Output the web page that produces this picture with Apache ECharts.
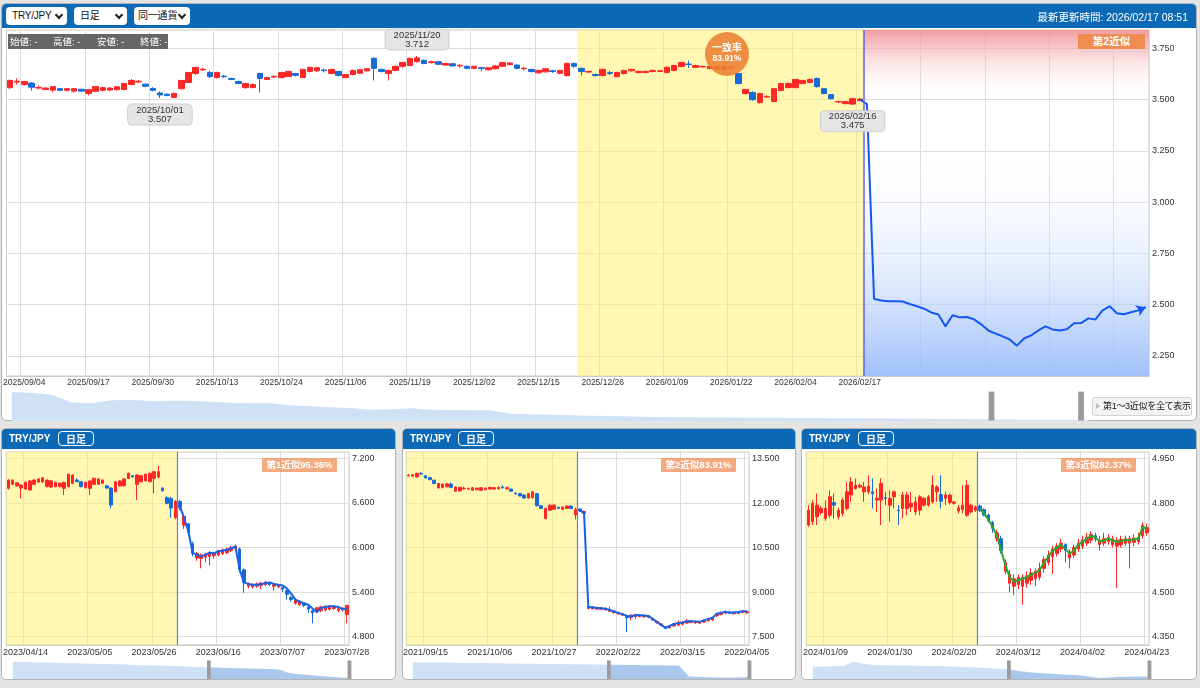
<!DOCTYPE html>
<html>
<head>
<meta charset="utf-8">
<script src="https://cdn.jsdelivr.net/npm/echarts@6/dist/echarts.min.js"></script>
<style>
  body { margin: 0; width: 1200px; height: 688px; overflow: hidden; background: #e4e4e4;
         font-family: "Liberation Sans", "Noto Sans CJK JP", sans-serif; }
  .panel { position: absolute; background: #fff; border: 1px solid #b3b3b3; border-radius: 5px;
           box-sizing: border-box; overflow: hidden; }
  .hdr { position: absolute; left: 0; right: 0; top: 0; background: #0b69b5; }
  .chart { position: absolute; z-index: 1; }
  .ov { position: absolute; z-index: 2; }
  .sel { position: absolute; z-index: 2; height: 18px; background: #fff; border-radius: 4px; box-sizing: border-box;
         font-size: 10px; line-height: 18px; padding-left: 6px; color: #111; letter-spacing: -0.2px; }
  .sel i { position: absolute; right: 5px; top: 5px; width: 4px; height: 4px; border-right: 2px solid #222;
           border-bottom: 2px solid #222; transform: rotate(45deg); }
  .ptitle { position: absolute; z-index: 2; color: #fff; font-weight: bold; font-size: 10px; }
  .pbtn { position: absolute; z-index: 2; width: 36px; height: 15px; border: 1px solid #fff; border-radius: 4px;
          box-sizing: border-box; color: #fff; font-weight: bold; font-size: 10px; line-height: 13px; text-align: center;
          font-family: "Noto Sans CJK JP", sans-serif; }
  .badge { position: absolute; z-index: 2; height: 14px; width: 75px; background: rgba(240,146,92,0.78); color: #fff;
           font-weight: bold; font-size: 9.5px; line-height: 14px; text-align: center; }
</style>
</head>
<body>

<!-- page chrome -->
<div class="panel" style="left:1px;top:3px;width:1196px;height:418px">
  <div class="hdr" style="height:24px;border-radius:4px 4px 0 0"></div>
</div>
<div class="panel" style="left:1px;top:428px;width:395px;height:252px"><div class="hdr" style="height:20px"></div></div>
<div class="panel" style="left:402px;top:428px;width:394px;height:252px"><div class="hdr" style="height:20px"></div></div>
<div class="panel" style="left:801px;top:428px;width:396px;height:252px"><div class="hdr" style="height:20px"></div></div>

<div id="main" class="chart" style="left:0;top:0;width:1200px;height:421px"></div>
<div id="c1" class="chart" style="left:0;top:425px;width:400px;height:254px"></div>
<div id="c2" class="chart" style="left:400px;top:425px;width:400px;height:254px"></div>
<div id="c3" class="chart" style="left:800px;top:425px;width:400px;height:254px"></div>

<!-- header controls -->
<div class="sel" style="left:6px;top:7px;width:61px">TRY/JPY<i></i></div>
<div class="sel" style="left:74px;top:7px;width:53px">日足<i></i></div>
<div class="sel" style="left:134px;top:7px;width:56px;padding-left:4px">同一通貨<i></i></div>
<div class="ov" style="right:12px;top:9px;color:#fff;font-size:10.5px">最新更新時間: 2026/02/17 08:51</div>

<div class="ov" style="left:8px;top:34px;width:160px;height:15px;background:rgba(85,85,85,0.9);color:#fff;font-size:9.5px;line-height:15px">
  <span style="position:absolute;left:2px">始値: -</span>
  <span style="position:absolute;left:45px">高値: -</span>
  <span style="position:absolute;left:89px">安値: -</span>
  <span style="position:absolute;left:132px">終値: -</span>
</div>
<div class="ov" style="left:1078px;top:34px;width:67px;height:15px;background:#ee8c52;color:#fff;font-weight:bold;font-size:10.5px;line-height:15px;text-align:center">第2近似</div>
<div class="ov" style="left:705px;top:32px;width:44px;height:44px;border-radius:50%;background:rgba(236,128,48,0.88);color:#fff;font-weight:bold;text-align:center">
  <div style="font-size:10px;line-height:11px;margin-top:10px">一致率</div>
  <div style="font-size:8.5px;line-height:10px">83.91%</div>
</div>
<div class="ov" style="left:1092px;top:397px;width:100px;height:19px;box-sizing:border-box;border:1px solid #d2d2d2;border-radius:3px;background:#f3f3f3;font-size:9px;line-height:17px;color:#111;padding-left:10px;letter-spacing:-0.3px">
  <span style="position:absolute;left:3px;top:5px;width:0;height:0;border-left:4px solid #bbb;border-top:3px solid transparent;border-bottom:3px solid transparent"></span>第1～3近似を全て表示
</div>

<!-- panel headers -->
<div class="ptitle" style="left:9px;top:433px">TRY/JPY</div><div class="pbtn" style="left:58px;top:431px">日足</div>
<div class="ptitle" style="left:410px;top:433px">TRY/JPY</div><div class="pbtn" style="left:458px;top:431px">日足</div>
<div class="ptitle" style="left:809px;top:433px">TRY/JPY</div><div class="pbtn" style="left:858px;top:431px">日足</div>
<div class="badge" style="left:262px;top:458px">第1近似95.36%</div>
<div class="badge" style="left:661px;top:458px">第2近似83.91%</div>
<div class="badge" style="left:1061px;top:458px">第3近似82.37%</div>

<script>
const FONT = '"Liberation Sans", Arial, sans-serif';
const UP = '#ff2626';
const DOWN = '#176bd8';

// weekday calendar (forex days), optionally skipping holidays
function makeDays(start, count, skip) {
  const out = [];
  const d = new Date(start + 'T00:00:00Z');
  while (out.length < count) {
    const wd = d.getUTCDay();
    const s = d.toISOString().slice(0, 10).replace(/-/g, '/');
    if (wd !== 0 && wd !== 6 && !(skip || []).includes(s)) out.push(s);
    d.setUTCDate(d.getUTCDate() + 1);
  }
  return out;
}

/* ---------------- main chart data ---------------- */
const mainDates = makeDays('2025-09-02', 160, ['2026/01/01']);
const mainYTicks = [2.25, 2.5, 2.75, 3.0, 3.25, 3.5, 3.75];
// [open, close, low, high]
const mainOHLC = [
  [3.558,3.593,3.552,3.598],[3.585,3.589,3.573,3.603],[3.573,3.588,3.568,3.591],[3.580,3.560,3.544,3.585],
  [3.556,3.559,3.549,3.570],[3.549,3.556,3.546,3.560],[3.546,3.563,3.535,3.566],[3.553,3.545,3.541,3.556],
  [3.545,3.553,3.540,3.556],[3.541,3.553,3.533,3.556],[3.550,3.541,3.538,3.553],[3.530,3.548,3.520,3.550],
  [3.540,3.563,3.536,3.566],[3.545,3.558,3.540,3.562],[3.546,3.556,3.540,3.559],[3.548,3.562,3.543,3.565],
  [3.549,3.578,3.545,3.581],[3.573,3.593,3.570,3.600],[3.586,3.589,3.580,3.595],[3.575,3.565,3.560,3.578],
  [3.554,3.545,3.540,3.560],[3.532,3.522,3.507,3.540],[3.526,3.520,3.515,3.530],[3.510,3.530,3.508,3.533],
  [3.553,3.593,3.550,3.596],[3.583,3.632,3.580,3.635],[3.627,3.657,3.620,3.660],[3.645,3.648,3.640,3.655],
  [3.632,3.612,3.605,3.640],[3.607,3.632,3.603,3.636],[3.614,3.611,3.606,3.620],[3.603,3.598,3.594,3.606],
  [3.588,3.578,3.575,3.592],[3.558,3.578,3.553,3.581],[3.558,3.573,3.555,3.578],[3.627,3.603,3.534,3.630],
  [3.598,3.607,3.596,3.610],[3.610,3.613,3.603,3.618],[3.607,3.632,3.602,3.635],[3.612,3.637,3.610,3.640],
  [3.627,3.618,3.612,3.630],[3.607,3.647,3.604,3.650],[3.637,3.657,3.633,3.660],[3.640,3.655,3.635,3.658],
  [3.644,3.641,3.632,3.650],[3.627,3.647,3.624,3.650],[3.637,3.618,3.613,3.640],[3.607,3.622,3.603,3.625],
  [3.622,3.642,3.618,3.646],[3.628,3.645,3.625,3.648],[3.640,3.650,3.636,3.654],[3.701,3.652,3.593,3.705],
  [3.647,3.637,3.632,3.650],[3.627,3.642,3.593,3.645],[3.642,3.662,3.640,3.666],[3.662,3.681,3.655,3.684],
  [3.666,3.701,3.662,3.704],[3.685,3.703,3.680,3.712],[3.691,3.676,3.672,3.695],[3.680,3.684,3.676,3.690],
  [3.684,3.672,3.668,3.688],[3.668,3.676,3.664,3.680],[3.674,3.664,3.660,3.678],[3.664,3.667,3.655,3.672],
  [3.662,3.652,3.648,3.666],[3.652,3.662,3.648,3.665],[3.655,3.652,3.640,3.660],[3.645,3.655,3.642,3.658],
  [3.650,3.664,3.646,3.668],[3.662,3.680,3.658,3.684],[3.670,3.678,3.666,3.682],[3.668,3.652,3.648,3.672],
  [3.650,3.653,3.642,3.658],[3.647,3.637,3.632,3.650],[3.630,3.642,3.626,3.645],[3.635,3.650,3.630,3.653],
  [3.640,3.637,3.630,3.645],[3.628,3.642,3.624,3.645],[3.617,3.676,3.612,3.680],[3.676,3.662,3.655,3.680],
  [3.652,3.637,3.617,3.656],[3.634,3.637,3.630,3.640],[3.622,3.617,3.612,3.626],[3.617,3.647,3.613,3.650],
  [3.631,3.627,3.620,3.640],[3.612,3.632,3.608,3.635],[3.627,3.642,3.622,3.645],[3.640,3.647,3.636,3.650],
  [3.632,3.637,3.628,3.641],[3.632,3.637,3.628,3.641],[3.637,3.642,3.633,3.646],[3.637,3.640,3.633,3.644],
  [3.632,3.657,3.628,3.660],[3.642,3.666,3.638,3.669],[3.661,3.681,3.656,3.684],[3.673,3.671,3.654,3.690],
  [3.657,3.666,3.653,3.670],[3.659,3.661,3.655,3.665],[3.651,3.661,3.647,3.664],[3.647,3.661,3.643,3.664],
  [3.647,3.661,3.643,3.664],[3.655,3.659,3.650,3.663],[3.627,3.578,3.573,3.630],[3.529,3.549,3.525,3.552],
  [3.534,3.499,3.494,3.540],[3.485,3.529,3.480,3.533],[3.512,3.515,3.508,3.520],[3.490,3.553,3.487,3.556],
  [3.544,3.578,3.540,3.581],[3.558,3.578,3.555,3.582],[3.558,3.598,3.555,3.601],[3.578,3.593,3.575,3.596],
  [3.583,3.598,3.580,3.601],[3.603,3.563,3.558,3.607],[3.553,3.529,3.525,3.556],[3.524,3.504,3.500,3.527],
  [3.488,3.490,3.483,3.495],[3.480,3.490,3.476,3.493],[3.478,3.504,3.475,3.507],[3.495,3.502,3.490,3.507]
];
// projected path (第2近似), starting at the latest bar
const forecastStart = 119;
const mainForecast = [
  3.500, 3.478, 2.528, 2.520, 2.517, 2.517, 2.515, 2.503, 2.492, 2.480,
  2.462, 2.452, 2.394, 2.448, 2.438, 2.440, 2.428, 2.404, 2.374, 2.359,
  2.345, 2.330, 2.300, 2.335, 2.350, 2.374, 2.394, 2.379, 2.374, 2.380,
  2.409, 2.410, 2.433, 2.428, 2.472, 2.492, 2.458, 2.453, 2.463, 2.472, 2.487
];
// matched period (yellow) and projection zone, as bar boundaries
const mainZones = { matchFrom: 80, now: 120, end: 160 };
// high / low notes on the candles
const mainNotes = [ { idx: 21, field: 'low', pos: 'bottom' }, { idx: 57, field: 'high', pos: 'top' }, { idx: 118, field: 'low', pos: 'bottom' } ];
// long-history overview under the main chart
const mainZoomHist = [
  28.3, 27.8, 25.6, 18.3, 17.2, 20.1, 20.4, 19.5, 19.7, 19.8, 18.6, 17.8, 17.3, 17.1, 15.1, 14.2,
  13.3, 12.4, 10.8, 11.3, 12.2, 10.7, 10.5, 10.3, 10.1, 6.7, 6.2, 5.7, 5.1, 4.8, 4.5, 4.0,
  3.5, 3.3, 3.1, 3.0, 2.9, 2.8, 2.6, 2.5, 2.4, 2.3, 2.2, 2.1, 2.0, 1.8, 1.6, 1.4, 1.2, 1.0,
  0.9, 0.8, 0.7, 0.6, 0.5
];

/* ---------------- similar-period panels ---------------- */
const p1Dates = makeDays('2023-04-10', 80);
const p1YTicks = [4.8, 5.4, 6.0, 6.6, 7.2];
const p1OHLC = [
  [6.796,6.908,6.780,6.920],[6.850,6.905,6.840,6.915],[6.830,6.870,6.815,6.880],[6.800,6.840,6.662,6.850],
  [6.787,6.877,6.775,6.890],[6.774,6.895,6.765,6.905],[6.850,6.908,6.840,6.915],[6.880,6.922,6.870,6.930],
  [6.880,6.939,6.870,6.950],[6.820,6.908,6.810,6.915],[6.814,6.895,6.800,6.905],[6.818,6.877,6.810,6.885],
  [6.818,6.864,6.810,6.872],[6.796,6.877,6.706,6.885],[6.818,6.985,6.810,6.995],[6.864,6.975,6.850,6.985],
  [6.908,6.885,6.880,6.930],[6.885,6.818,6.810,6.895],[6.804,6.877,6.795,6.885],[6.796,6.895,6.706,6.905],
  [6.850,6.931,6.840,6.940],[6.850,6.922,6.845,6.935],[6.864,6.908,6.855,6.915],[6.830,6.800,6.790,6.840],
  [6.800,6.572,6.527,6.810],[6.751,6.885,6.740,6.895],[6.827,6.895,6.820,6.905],[6.830,6.922,6.825,6.930],
  [6.930,6.998,6.920,7.010],[6.966,6.950,6.940,6.975],[6.850,6.975,6.639,6.985],[6.885,6.966,6.875,6.975],
  [6.897,6.985,6.890,6.995],[6.885,6.998,6.875,7.005],[6.930,7.020,6.729,7.030],[6.950,7.020,6.930,7.100],
  [6.800,6.764,6.750,6.810],[6.670,6.595,6.580,6.690],[6.660,6.530,6.400,6.680],[6.400,6.620,6.380,6.640],
  [6.620,6.540,6.500,6.640],[6.300,6.420,6.250,6.450],[6.320,6.200,6.150,6.330],[6.050,5.920,5.880,6.080],
  [5.860,5.920,5.820,5.940],[5.850,5.900,5.720,5.920],[5.870,5.910,5.800,5.930],[5.880,5.930,5.760,5.950],
  [5.890,5.920,5.850,5.940],[5.900,5.950,5.880,5.970],[5.920,5.960,5.900,5.990],[5.930,5.975,5.910,6.000],
  [5.960,6.000,5.940,6.020],[5.990,6.020,5.960,6.040],[5.980,5.700,5.660,6.000],[5.700,5.530,5.390,5.720],
  [5.480,5.510,5.450,5.530],[5.470,5.500,5.450,5.520],[5.480,5.510,5.460,5.530],[5.490,5.520,5.440,5.540],
  [5.500,5.535,5.480,5.555],[5.520,5.500,5.480,5.530],[5.480,5.500,5.420,5.520],[5.470,5.490,5.450,5.510],
  [5.460,5.440,5.400,5.470],[5.420,5.370,5.300,5.430],[5.330,5.300,5.270,5.340],[5.250,5.290,5.230,5.310],
  [5.230,5.270,5.210,5.290],[5.250,5.220,5.200,5.260],[5.200,5.170,5.120,5.210],[5.150,5.120,4.980,5.160],
  [5.140,5.190,5.120,5.200],[5.150,5.200,5.130,5.215],[5.160,5.210,5.140,5.225],[5.170,5.210,5.150,5.225],
  [5.180,5.200,5.160,5.215],[5.150,5.175,5.130,5.190],[5.160,5.185,5.140,5.200],[5.100,5.220,4.980,5.230]
];
const p1Path = [
  6.56, 6.40, 6.22, 5.93, 5.90, 5.88, 5.90, 5.93, 5.92, 5.95, 5.96, 5.97, 5.99, 6.01, 5.70, 5.53,
  5.51, 5.50, 5.50, 5.51, 5.52, 5.53, 5.51, 5.50, 5.49, 5.45, 5.38, 5.30, 5.27, 5.25, 5.23, 5.18,
  5.13, 5.19, 5.20, 5.21, 5.21, 5.20, 5.17, 5.18
];
const p1ZoomHist = [
  17.3, 17.0, 16.8, 16.5, 16.3, 16.1, 15.7, 15.6, 15.3, 15.0, 14.8, 14.4, 14.1, 13.8, 13.5, 13.2, 13.0,
  12.5, 12.1, 11.7, 11.4, 11.1, 10.8, 10.5, 10.2, 9.9, 9.5, 6.0, 4.7, 4.0, 3.0, 2.3, 1.6, 0.9
];

const p2Dates = makeDays('2021-09-09', 40).concat(makeDays('2022-02-09', 40));
const p2YTicks = [7.5, 9.0, 10.5, 12.0, 13.5];
const p2OHLC = [
  [12.92,12.94,12.90,12.97],[12.91,12.95,12.89,12.97],[12.88,13.00,12.86,13.03],[13.00,12.98,12.95,13.04],
  [12.92,12.85,12.82,12.94],[12.86,12.79,12.76,12.88],[12.77,12.66,12.63,12.79],[12.51,12.66,12.49,12.68],
  [12.52,12.64,12.50,12.66],[12.55,12.65,12.53,12.67],[12.64,12.53,12.50,12.70],[12.40,12.54,12.38,12.56],
  [12.41,12.53,12.39,12.55],[12.48,12.50,12.45,12.56],[12.47,12.49,12.45,12.52],[12.43,12.52,12.41,12.54],
  [12.45,12.50,12.43,12.52],[12.43,12.52,12.41,12.54],[12.45,12.50,12.43,12.52],[12.47,12.53,12.45,12.55],
  [12.47,12.52,12.45,12.54],[12.48,12.53,12.46,12.55],[12.54,12.52,12.48,12.60],[12.48,12.52,12.46,12.55],
  [12.47,12.40,12.38,12.49],[12.33,12.31,12.28,12.36],[12.32,12.24,12.22,12.34],[12.27,12.17,12.15,12.29],
  [12.17,12.32,12.15,12.34],[12.18,12.38,12.16,12.40],[12.32,11.91,11.88,12.34],[11.91,11.82,11.80,11.93],
  [11.48,11.82,11.45,11.84],[11.76,11.93,11.74,11.95],[11.79,11.93,11.77,11.96],[11.86,11.82,11.80,11.88],
  [11.79,11.87,11.77,11.89],[11.82,11.90,11.80,11.92],[11.90,11.82,11.79,11.92],[11.60,11.78,11.45,11.85],
  [11.80,11.74,11.70,11.82],[11.66,11.72,11.63,11.75],[8.45,8.52,8.42,8.55],[8.44,8.50,8.42,8.53],
  [8.43,8.48,8.40,8.51],[8.42,8.47,8.40,8.50],[8.40,8.45,8.38,8.50],[8.36,8.41,8.33,8.52],
  [8.31,8.36,8.28,8.39],[8.26,8.31,8.24,8.34],[8.22,8.27,8.20,8.30],[8.20,8.14,7.66,8.24],
  [8.15,8.22,8.05,8.26],[8.18,8.24,8.10,8.27],[8.18,8.23,8.15,8.26],[8.17,8.22,8.14,8.25],
  [8.15,8.20,8.12,8.23],[8.06,8.10,8.03,8.13],[7.97,8.01,7.94,8.04],[7.89,7.93,7.86,7.96],
  [7.82,7.78,7.75,7.85],[7.80,7.87,7.77,7.90],[7.86,7.93,7.83,7.96],[7.89,7.96,7.85,8.05],
  [7.92,7.99,7.88,8.02],[7.96,8.03,7.93,8.10],[7.98,8.02,7.95,8.05],[7.96,8.01,7.93,8.04],
  [7.95,8.00,7.92,8.03],[7.99,8.05,7.96,8.08],[8.04,8.10,8.01,8.13],[8.06,8.12,8.03,8.15],
  [8.20,8.27,8.17,8.30],[8.25,8.31,8.22,8.34],[8.29,8.34,8.26,8.38],[8.34,8.30,8.27,8.37],
  [8.27,8.32,8.25,8.35],[8.28,8.33,8.26,8.36],[8.31,8.36,8.29,8.39],[8.30,8.35,8.28,8.38]
];
const p2Path = [
  11.76, 11.66, 8.50, 8.49, 8.47, 8.46, 8.44, 8.40, 8.35, 8.30, 8.26, 8.20, 8.18, 8.23, 8.22, 8.21,
  8.20, 8.10, 8.00, 7.90, 7.80, 7.86, 7.93, 7.96, 7.98, 8.02, 8.02, 8.01, 8.00, 8.05, 8.10, 8.14,
  8.27, 8.31, 8.34, 8.30, 8.32, 8.33, 8.36, 8.36
];
const p2ZoomHist = [
  17.3, 17.1, 17.0, 16.9, 16.8, 16.6, 16.5, 16.4, 16.2, 16.1, 16.0, 15.8, 15.7, 15.6, 15.5, 15.3, 15.2,
  15.1, 15.0, 14.8, 14.7, 14.6, 14.5, 14.3, 14.2, 14.1, 14.0, 3.0, 2.6, 2.3, 2.0, 2.0, 2.3, 2.6
];

const p3Dates = makeDays('2024-01-03', 80);
const p3YTicks = [4.35, 4.5, 4.65, 4.8, 4.95];
const p3OHLC = [
  [4.726,4.776,4.720,4.793],[4.737,4.799,4.726,4.810],[4.754,4.793,4.726,4.832],[4.768,4.782,4.760,4.790],
  [4.748,4.782,4.740,4.810],[4.759,4.821,4.750,4.843],[4.802,4.793,4.748,4.832],[4.754,4.776,4.745,4.785],
  [4.765,4.810,4.755,4.818],[4.782,4.838,4.775,4.871],[4.827,4.871,4.804,4.888],[4.849,4.860,4.845,4.883],
  [4.854,4.860,4.850,4.866],[4.838,4.854,4.804,4.871],[4.838,4.857,4.830,4.894],[4.838,4.832,4.782,4.883],
  [4.810,4.816,4.770,4.849],[4.810,4.866,4.726,4.883],[4.818,4.816,4.793,4.838],[4.793,4.816,4.737,4.843],
  [4.821,4.838,4.782,4.842],[4.776,4.774,4.726,4.793],[4.782,4.827,4.748,4.838],[4.782,4.827,4.759,4.838],
  [4.787,4.799,4.770,4.838],[4.770,4.804,4.759,4.821],[4.776,4.821,4.759,4.827],[4.793,4.816,4.788,4.820],
  [4.793,4.821,4.788,4.827],[4.804,4.860,4.798,4.894],[4.838,4.854,4.804,4.860],[4.829,4.806,4.782,4.894],
  [4.816,4.827,4.793,4.838],[4.802,4.827,4.795,4.832],[4.799,4.804,4.795,4.808],[4.773,4.784,4.765,4.793],
  [4.779,4.793,4.765,4.860],[4.759,4.860,4.754,4.877],[4.770,4.793,4.765,4.798],[4.776,4.787,4.770,4.792],
  [4.790,4.775,4.770,4.795],[4.778,4.760,4.755,4.782],[4.760,4.740,4.735,4.765],[4.735,4.715,4.700,4.740],
  [4.680,4.700,4.670,4.710],[4.680,4.640,4.630,4.690],[4.570,4.600,4.560,4.610],[4.530,4.560,4.500,4.575],
  [4.520,4.545,4.490,4.560],[4.525,4.550,4.510,4.560],[4.520,4.550,4.457,4.560],[4.530,4.555,4.515,4.570],
  [4.540,4.565,4.525,4.580],[4.545,4.570,4.520,4.580],[4.550,4.580,4.540,4.600],[4.580,4.610,4.565,4.620],
  [4.600,4.625,4.590,4.640],[4.620,4.645,4.560,4.655],[4.630,4.655,4.620,4.665],[4.645,4.665,4.635,4.680],
  [4.660,4.640,4.600,4.665],[4.615,4.635,4.580,4.645],[4.625,4.650,4.615,4.660],[4.645,4.665,4.635,4.680],
  [4.655,4.675,4.645,4.690],[4.665,4.685,4.655,4.700],[4.675,4.695,4.665,4.705],[4.690,4.680,4.670,4.700],
  [4.660,4.675,4.640,4.690],[4.665,4.680,4.655,4.700],[4.670,4.685,4.660,4.695],[4.660,4.680,4.650,4.690],
  [4.655,4.675,4.514,4.685],[4.660,4.678,4.650,4.690],[4.665,4.680,4.655,4.690],[4.665,4.680,4.580,4.690],
  [4.668,4.682,4.655,4.695],[4.670,4.685,4.660,4.700],[4.690,4.725,4.680,4.735],[4.700,4.718,4.690,4.730]
];
const p3Path = [
  4.780, 4.765, 4.745, 4.720, 4.690, 4.640, 4.590, 4.550, 4.535, 4.540, 4.545, 4.550, 4.560, 4.565,
  4.575, 4.600, 4.620, 4.640, 4.650, 4.660, 4.645, 4.630, 4.640, 4.660, 4.670, 4.680, 4.690, 4.685,
  4.670, 4.675, 4.680, 4.675, 4.670, 4.672, 4.676, 4.675, 4.678, 4.680, 4.720, 4.715
];
const p3ZoomHist = [
  12.3, 12.5, 12.8, 13.0, 17.3, 15.0, 14.0, 13.8, 13.6, 13.4, 13.3, 13.1, 13.0, 12.7, 12.3, 11.9, 11.5,
  10.9, 10.3, 9.7, 8.3, 7.0, 6.0, 5.4, 4.8, 4.2, 3.8, 2.5, 0.9, 1.5, 2.3, 2.3, 2.4, 2.5
];
// panel match period ends at bar 40; projected path starts there too
const panelNow = 40;

/* ---------------- helpers ---------------- */
const axisText = { color: '#333', fontFamily: FONT };

function candles(ohlc, barWidth, extra) {
  return Object.assign({
    type: 'candlestick', data: ohlc, barWidth: barWidth, z: 3,
    itemStyle: { color: UP, color0: DOWN, borderColor: UP, borderColor0: DOWN, borderWidth: 1 }
  }, extra || {});
}

function pathData(dates, start, values) {
  return dates.map((d, i) => (i >= start && i - start < values.length) ? values[i - start] : '-');
}

function zoomPieces(hist, gridIndex) {
  return {
    xAxis: { type: 'category', gridIndex: gridIndex, data: hist.map((_, i) => i), show: false },
    yAxis: { type: 'value', gridIndex: gridIndex, show: false },
    series: { type: 'line', xAxisIndex: 2, yAxisIndex: 1, data: hist, symbol: 'none', silent: true,
              lineStyle: { opacity: 0 }, z: 0 }
  };
}

function slider(opts) {
  return Object.assign({
    type: 'slider', xAxisIndex: 2, showDetail: false, brushSelect: false, moveHandleSize: 0, zoomLock: true,
    backgroundColor: 'rgba(0,0,0,0)', borderColor: 'rgba(0,0,0,0)', fillerColor: 'rgba(0,0,0,0)',
    handleIcon: 'path://M0,0H6V30H0Z',
    handleStyle: { color: '#9b9b9b', borderColor: '#8c8c8c', borderWidth: 0 },
    dataBackground: { lineStyle: { opacity: 0 }, areaStyle: { color: '#cfe1f5', opacity: 1 } }
  }, opts);
}

/* ---------------- main chart ---------------- */
const projGradient = {
  type: 'linear', x: 0, y: 0, x2: 0, y2: 1,
  colorStops: [
    { offset: 0, color: 'rgba(238,138,142,0.85)' },
    { offset: 0.2, color: 'rgba(255,255,255,0)' },
    { offset: 0.33, color: 'rgba(255,255,255,0)' },
    { offset: 1, color: 'rgba(150,186,250,0.9)' }
  ]
};
const mz = zoomPieces(mainZoomHist, 1);
const mainChart = echarts.init(document.getElementById('main'), null, { renderer: 'canvas' });
mainChart.setOption({
  animation: false,
  grid: [
    { left: 3, top: 30, width: 1146, height: 346, show: true, borderColor: '#c9c9c9', backgroundColor: 'transparent' },
    { left: 9, top: 383.3, width: 1077, height: 44.5, show: false }
  ],
  xAxis: [
    { type: 'category', data: mainDates, boundaryGap: true,
      axisLine: { lineStyle: { color: '#c9c9c9' } }, axisTick: { show: false },
      axisLabel: Object.assign({ interval: (i) => i <= 119 && (i - 2) % 9 === 0, fontSize: 8.5, margin: 2 }, axisText),
      splitLine: { show: true, interval: (i) => (i - 2) % 9 === 0, lineStyle: { color: '#dcdcdc' } } },
    { type: 'value', min: 0, max: mainDates.length, show: false },
    mz.xAxis
  ],
  yAxis: [
    { type: 'value', position: 'right', min: 2.152, max: 3.839,
      axisLine: { show: false }, axisTick: { show: false, customValues: mainYTicks },
      axisLabel: Object.assign({ customValues: mainYTicks, formatter: (v) => v.toFixed(3), fontSize: 9, margin: 3 }, axisText),
      splitLine: { lineStyle: { color: '#dcdcdc' } } },
    mz.yAxis
  ],
  dataZoom: [ slider({ left: 9, width: 1077, top: 383.3, height: 44.5, start: 90.9, end: 99.4, handleSize: '65%',
    selectedDataBackground: { lineStyle: { opacity: 0 }, areaStyle: { color: '#cfe1f5', opacity: 1 } } }) ],
  series: [
    { type: 'line', xAxisIndex: 1, yAxisIndex: 0, data: [], silent: true, z: 1,
      markArea: { silent: true, data: [
        [ { xAxis: mainZones.matchFrom, itemStyle: { color: 'rgba(255,240,115,0.55)', opacity: 1 } }, { xAxis: mainZones.now } ],
        [ { xAxis: mainZones.now, itemStyle: { color: projGradient, opacity: 1 } }, { xAxis: mainZones.end } ]
      ] },
      markLine: { silent: true, symbol: ['none', 'none'], label: { show: false },
        lineStyle: { color: '#6262f0', width: 1.5, type: 'solid', opacity: 1 }, data: [ { xAxis: mainZones.now } ] } },
    candles(mainOHLC, 6, {
      markPoint: {
        symbol: 'circle', symbolSize: 1, itemStyle: { color: 'rgba(0,0,0,0)' },
        label: { show: true, formatter: (p) => p.name + '\n' + p.value.toFixed(3), color: '#333', fontFamily: FONT,
          fontSize: 9.5, lineHeight: 9, backgroundColor: '#e5e5e5', borderColor: '#cdcdcd', borderWidth: 1,
          borderRadius: 4, padding: [1, 8], align: 'center' },
        data: mainNotes.map((n) => {
          const v = mainOHLC[n.idx][n.field === 'low' ? 2 : 3];
          return { name: mainDates[n.idx], value: v, coord: [mainDates[n.idx], v], label: { position: n.pos, distance: 6 } };
        })
      }
    }),
    { type: 'line', data: pathData(mainDates, forecastStart, mainForecast), symbol: 'none', z: 4,
      lineStyle: { color: '#1457f2', width: 2 },
      markLine: { silent: true, symbol: ['none', 'arrow'], symbolSize: 9, label: { show: false },
        lineStyle: { color: '#1457f2', width: 2, type: 'solid' },
        data: [[
          { coord: [mainDates[forecastStart + mainForecast.length - 2], mainForecast[mainForecast.length - 2]] },
          { coord: [mainDates[forecastStart + mainForecast.length - 1], mainForecast[mainForecast.length - 1]] }
        ]] } },
    mz.series
  ]
});

/* ---------------- panels ---------------- */
function panelOption(p) {
  const z = zoomPieces(p.hist, 1);
  return {
    animation: false,
    grid: [
      { left: 4, top: 27, width: 345, height: 193, show: true, borderColor: '#c9c9c9', backgroundColor: 'transparent' },
      { left: 10, top: p.zoomTop, width: 338, height: p.zoomH, show: false }
    ],
    xAxis: [
      { type: 'category', data: p.dates, boundaryGap: true,
        axisLine: { lineStyle: { color: '#c9c9c9' } }, axisTick: { show: false },
        axisLabel: Object.assign({ interval: (i) => (i - 4) % 15 === 0, fontSize: 9, margin: 3 }, axisText),
        splitLine: { show: true, interval: (i) => (i - 4) % 15 === 0, lineStyle: { color: '#dcdcdc' } } },
      { type: 'value', min: 0, max: p.dates.length, show: false },
      z.xAxis
    ],
    yAxis: [
      { type: 'value', position: 'right', min: p.min, max: p.max,
        axisLine: { show: false }, axisTick: { show: false, customValues: p.ticks },
        axisLabel: Object.assign({ customValues: p.ticks, formatter: (v) => v.toFixed(3), fontSize: 9, margin: 3 }, axisText),
        splitLine: { lineStyle: { color: '#dcdcdc' } } },
      z.yAxis
    ],
    dataZoom: [ slider({ left: 10, width: 338, top: p.zoomTop, height: p.zoomH, start: 57.8, end: 100,
      handleSize: p.handle,
      selectedDataBackground: { lineStyle: { opacity: 0 }, areaStyle: { color: '#a9c8ec', opacity: 1 } } }) ],
    series: [
      { type: 'line', xAxisIndex: 1, yAxisIndex: 0, data: [], silent: true, z: 1,
        markArea: { silent: true, itemStyle: { color: 'rgba(255,240,115,0.55)', opacity: 1 },
          data: [[ { xAxis: 0 }, { xAxis: panelNow } ]] },
        markLine: { silent: true, symbol: ['none', 'none'], label: { show: false },
          lineStyle: { color: '#7474ea', width: 1.2, type: 'solid', opacity: 1 }, data: [ { xAxis: panelNow } ] } },
      candles(p.ohlc, 3),
      { type: 'line', data: pathData(p.dates, panelNow, p.path), symbol: 'none', z: 4,
        lineStyle: { color: p.lineColor, width: 2 } },
      z.series
    ]
  };
}

echarts.init(document.getElementById('c1')).setOption(panelOption({
  dates: p1Dates, ohlc: p1OHLC, path: p1Path, hist: p1ZoomHist, ticks: p1YTicks,
  min: 4.688, max: 7.285, lineColor: '#1662e6', zoomTop: 231.8, zoomH: 26.2, handle: '72%'
}));
echarts.init(document.getElementById('c2')).setOption(panelOption({
  dates: p2Dates, ohlc: p2OHLC, path: p2Path, hist: p2ZoomHist, ticks: p2YTicks,
  min: 7.22, max: 13.72, lineColor: '#1662e6', zoomTop: 232.1, zoomH: 24.5, handle: '77%'
}));
echarts.init(document.getElementById('c3')).setOption(panelOption({
  dates: p3Dates, ohlc: p3OHLC, path: p3Path, hist: p3ZoomHist, ticks: p3YTicks,
  min: 4.322, max: 4.972, lineColor: '#2aa82a', zoomTop: 231.8, zoomH: 26.2, handle: '72%'
}));
</script>
</body>
</html>
